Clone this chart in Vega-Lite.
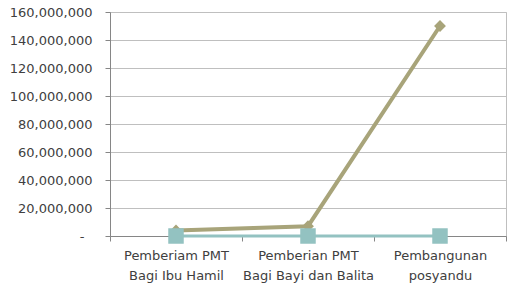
{
  "$schema": "https://vega.github.io/schema/vega-lite/v6.json",
  "width": 396,
  "height": 224,
  "autosize": {"type": "none"},
  "padding": {"left": 110, "top": 12, "right": 1, "bottom": 50},
  "background": "white",
  "config": {
    "view": {"stroke": "#BFBFBF", "strokeWidth": 1},
    "font": "DejaVu Sans",
    "axis": {"labelFont": "DejaVu Sans", "labelFontSize": 13, "labelColor": "#404040"}
  },
  "data": {
    "values": [
      {"series": "A", "category": "Pemberiam PMT|Bagi Ibu Hamil", "value": 4000000},
      {"series": "A", "category": "Pemberian PMT|Bagi Bayi dan Balita", "value": 7000000},
      {"series": "A", "category": "Pembangunan|posyandu", "value": 150000000},
      {"series": "B", "category": "Pemberiam PMT|Bagi Ibu Hamil", "value": 0},
      {"series": "B", "category": "Pemberian PMT|Bagi Bayi dan Balita", "value": 0},
      {"series": "B", "category": "Pembangunan|posyandu", "value": 0}
    ]
  },
  "encoding": {
    "x": {
      "field": "category",
      "type": "nominal",
      "sort": null,
      "title": null,
      "scale": {"paddingInner": 0, "paddingOuter": 0},
      "axis": {
        "labelAngle": 0,
        "labelExpr": "split(datum.label, '|')",
        "labelLineHeight": 20,
        "labelPadding": 8,
        "tickBand": "extent",
        "tickSize": 5,
        "tickColor": "#868686",
        "domainColor": "#868686",
        "grid": false,
        "labelLimit": 200
      }
    },
    "y": {
      "field": "value",
      "type": "quantitative",
      "title": null,
      "scale": {"domain": [0, 160000000], "nice": false},
      "axis": {
        "values": [0, 20000000, 40000000, 60000000, 80000000, 100000000, 120000000, 140000000, 160000000],
        "labelExpr": "datum.value == 0 ? '-' : format(datum.value, ',')",
        "tickSize": 5,
        "tickColor": "#868686",
        "domainColor": "#868686",
        "gridColor": "#BFBFBF",
        "labelPadding": {"condition": {"test": "datum.value == 0", "value": 21}, "value": 13}
      }
    }
  },
  "layer": [
    {
      "transform": [{"filter": "datum.series == 'A'"}],
      "mark": {"type": "line", "color": "#A8A47A", "strokeWidth": 4},
      "encoding": {}
    },
    {
      "transform": [{"filter": "datum.series == 'A'"}],
      "mark": {"type": "point", "shape": "diamond", "filled": true, "color": "#A8A47A", "size": 140, "opacity": 1},
      "encoding": {}
    },
    {
      "transform": [{"filter": "datum.series == 'B'"}],
      "mark": {"type": "line", "color": "#93C2C1", "strokeWidth": 3},
      "encoding": {}
    },
    {
      "transform": [{"filter": "datum.series == 'B'"}],
      "mark": {"type": "point", "shape": "square", "filled": true, "color": "#93C2C1", "size": 240, "opacity": 1},
      "encoding": {}
    }
  ]
}
